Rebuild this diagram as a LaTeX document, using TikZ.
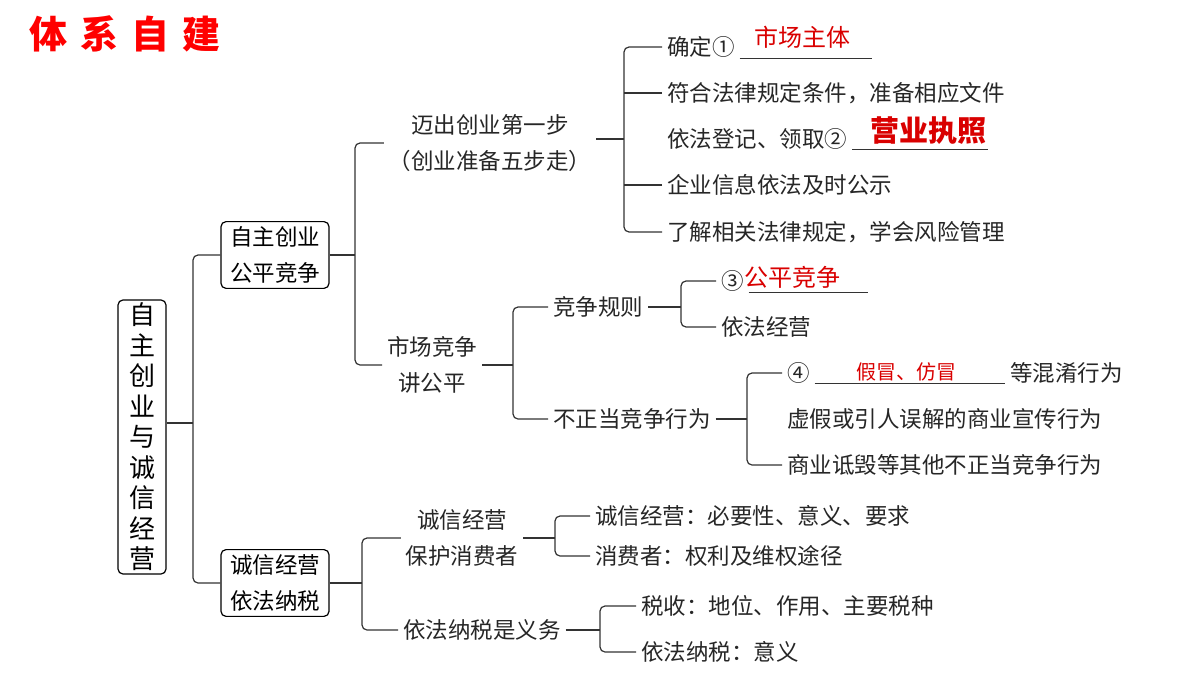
\documentclass[tikz,border=0pt]{standalone}
\usepackage{fontspec}
\setmainfont{Noto Sans CJK SC}
\newfontfamily\cjk{Noto Sans CJK SC}
\begin{document}
\begin{tikzpicture}[x=1pt,y=-1pt,
  txt/.style={font=\fontsize{22.5}{36}\selectfont, inner sep=0pt, outer sep=5pt, text=black!85},
  item/.style={txt, anchor=west},
  boxn/.style={draw, rounded corners=5pt, line width=1.2pt, font=\fontsize{22.5}{36}\selectfont, align=center, inner sep=5pt},
  conn/.style={line width=1.2pt, black!80, rounded corners=5pt},
  ans/.style={font=\fontsize{24}{28}\selectfont, text=red!85!black, inner sep=0pt},
  ul/.style={line width=1pt, black!80}]
\useasboundingbox (0,0) rectangle (1200,675);
\node[font=\fontsize{38}{40}\selectfont\bfseries, text=red, inner sep=0pt] (title) at (125,34) {体\hspace{0.35em}系\hspace{0.35em}自\hspace{0.35em}建};
% root
\node[boxn, font=\fontsize{26}{30.5}\selectfont, minimum height=272pt, minimum width=48pt, inner sep=3pt] (root) at (142,437) {自\\主\\创\\业\\与\\诚\\信\\经\\营};
\node[boxn, minimum width=108pt] (b1) at (275,255) {自主创业\\公平竞争};
\node[boxn, minimum width=108pt] (b2) at (275,583) {诚信经营\\依法纳税};
\coordinate (v0) at (193,0);
\draw[conn] (root.east |- 0,423) -- (v0 |- 0,423);
\draw[conn] (b1.west) -| (v0 |- b2.west) -- (b2.west);
% level 2
\node[txt, align=center] (n1) at (490,143) {迈出创业第一步\\（创业准备五步走）};
\node[txt, align=center] (n2) at (432,365) {市场竞争\\讲公平};
\node[txt, align=center] (n3) at (462,538) {诚信经营\\保护消费者};
\node[item] (n4) at (398,630) {依法纳税是义务};
\coordinate (v1) at (355,0);
\draw[conn] (b1.east) -- (v1 |- b1.east);
\draw[conn] (n1.west) -| (v1 |- n2.west) -- (n2.west);
\coordinate (v2) at (362,0);
\draw[conn] (b2.east) -- (v2 |- b2.east);
\draw[conn] (n3.west) -| (v2 |- n4.west) -- (n4.west);
% n1 children
\node[item] (a1) at (662,47) {确定①};
\node[item] (a2) at (662,93) {符合法律规定条件，准备相应文件};
\node[item] (a3) at (662,139) {依法登记、领取②};
\node[item] (a4) at (662,185) {企业信息依法及时公示};
\node[item] (a5) at (662,232) {了解相关法律规定，学会风险管理};
\coordinate (v3) at (624,0);
\draw[conn] (n1.east |- a3.west) -- (v3 |- a3.west);
\draw[conn] (a1.west) -| (v3 |- a5.west) -- (a5.west);
\draw[conn] (a2.west) -- (v3 |- a2.west);
\draw[conn] (a4.west) -- (v3 |- a4.west);
\coordinate (u1) at (872,58);
\draw[ul] (a1.east |- u1) -- (u1);
\node[ans] (r1) at (802,37) {市场主体};
\coordinate (u2) at (988,149);
\draw[ul] (a3.east |- u2) -- (u2);
\node[ans, font=\fontsize{29}{32}\selectfont\bfseries] (r2) at (928,131) {营业执照};
% n2 children
\node[item] (c1) at (548,307) {竞争规则};
\node[item] (c2) at (548,419) {不正当竞争行为};
\coordinate (v4) at (513,0);
\draw[conn] (n2.east) -- (v4 |- n2.east);
\draw[conn] (c1.west) -| (v4 |- c2.west) -- (c2.west);
\node[item] (d1) at (716,281) {③};
\node[item] (d2) at (716,327) {依法经营};
\coordinate (v5) at (681,0);
\draw[conn] (c1.east) -- (v5 |- c1.east);
\draw[conn] (d1.west) -| (v5 |- d2.west) -- (d2.west);
\coordinate (u3) at (868,292);
\draw[ul] (d1.east |- u3) -- (u3);
\node[ans] (r3) at (792,277) {公平竞争};
\node[item] (e1) at (782,373) {④};
\node[item] (e1b) at (1005,373) {等混淆行为};
\node[item] (e2) at (782,419) {虚假或引人误解的商业宣传行为};
\node[item] (e3) at (782,465) {商业诋毁等其他不正当竞争行为};
\coordinate (v6) at (747,0);
\draw[conn] (c2.east) -- (v6 |- c2.east);
\draw[conn] (e1.west) -| (v6 |- e3.west) -- (e3.west);
\coordinate (u4) at (1005,383);
\draw[ul] (e1.east |- u4) -- (u4);
\node[ans, font=\fontsize{20}{24}\selectfont] (r4) at (906,372) {假冒、仿冒};
% n3 children
\node[item] (f1) at (590,516) {诚信经营：必要性、意义、要求};
\node[item] (f2) at (590,556) {消费者：权利及维权途径};
\coordinate (v7) at (555,0);
\draw[conn] (n3.east) -- (v7 |- n3.east);
\draw[conn] (f1.west) -| (v7 |- f2.west) -- (f2.west);
\node[item] (g1) at (636,606) {税收：地位、作用、主要税种};
\node[item] (g2) at (636,652) {依法纳税：意义};
\coordinate (v8) at (600,0);
\draw[conn] (n4.east) -- (v8 |- n4.east);
\draw[conn] (g1.west) -| (v8 |- g2.west) -- (g2.west);
\end{tikzpicture}
\end{document}
